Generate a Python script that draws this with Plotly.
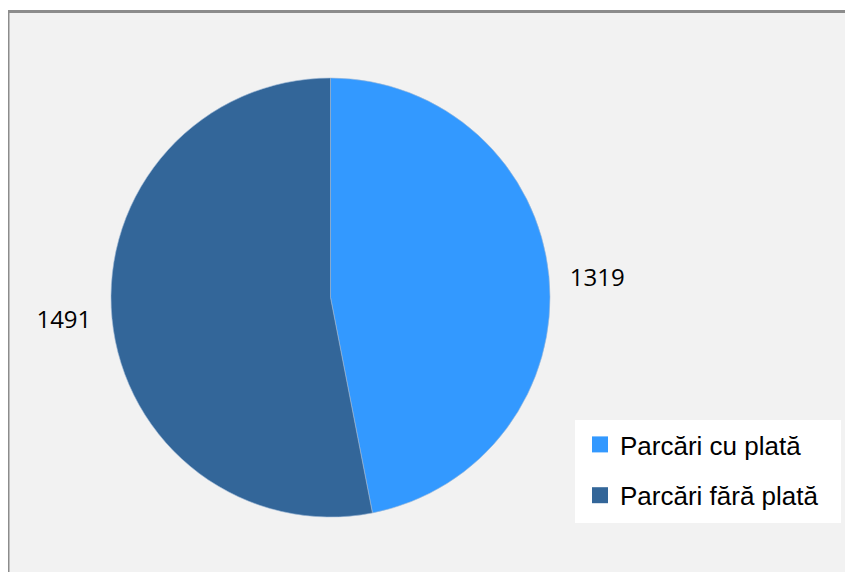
import plotly.graph_objects as go

categories = ["Parcări cu plată", "Parcări fără plată"]
values = [1319, 1491]
colors = ["#3399FF", "#336699"]

OFF = 8  # page body margin
W, H = 853, 572 - OFF
cx, cy, r = 330.5 - OFF, 297.5 - OFF, 219.5

def px(x):
    return (x - OFF) / W

def py(y):
    return 1 - (y - OFF) / H

fig = go.Figure()
fig.add_trace(go.Pie(
    labels=categories,
    values=values,
    marker=dict(colors=colors, line=dict(color="#9DB8D6", width=0.6)),
    sort=False,
    direction="clockwise",
    rotation=0,
    texttemplate=["\u00a0\u00a0%{value}", "%{value}\u00a0\u00a0"],
    textposition="outside",
    textfont=dict(family="Open Sans, Noto Sans, sans-serif", size=24, color="#000000"),
    hoverinfo="label+value",
    showlegend=False,
    domain=dict(x=[(cx - r) / W, (cx + r) / W], y=[(H - cy - r) / H, (H - cy + r) / H]),
))

for i, (cat, col) in enumerate(zip(categories, colors)):
    fig.add_trace(go.Scatter(
        x=[None], y=[None], mode="markers", name=cat,
        marker=dict(symbol="square", size=16, color=col),
        legendgroup=f"g{i}", showlegend=True,
    ))

fig.update_layout(
    width=W, height=H,
    margin=dict(l=0, r=0, t=0, b=0),
    paper_bgcolor="#FFFFFF",
    plot_bgcolor="rgba(0,0,0,0)",
    xaxis=dict(visible=False),
    yaxis=dict(visible=False),
    legend=dict(
        x=px(580), y=py(421), xanchor="left", yanchor="top",
        bgcolor="rgba(0,0,0,0)",
        font=dict(family="Liberation Sans, Arial, sans-serif", size=26, color="#000000"),
        tracegroupgap=14,
        itemclick=False,
        borderwidth=0,
    ),
    shapes=[
        dict(type="rect", xref="paper", yref="paper",
             x0=0, x1=1.02, y0=-0.02, y1=1 - 3.5 / H,
             fillcolor="#F2F2F2", line=dict(color="#8C8C8C", width=3), layer="below"),
        dict(type="rect", xref="paper", yref="paper",
             x0=px(575), x1=px(841), y0=py(523), y1=py(420),
             fillcolor="#FFFFFF", line=dict(width=0), layer="below"),
    ],
)

fig.write_html("out.html")
